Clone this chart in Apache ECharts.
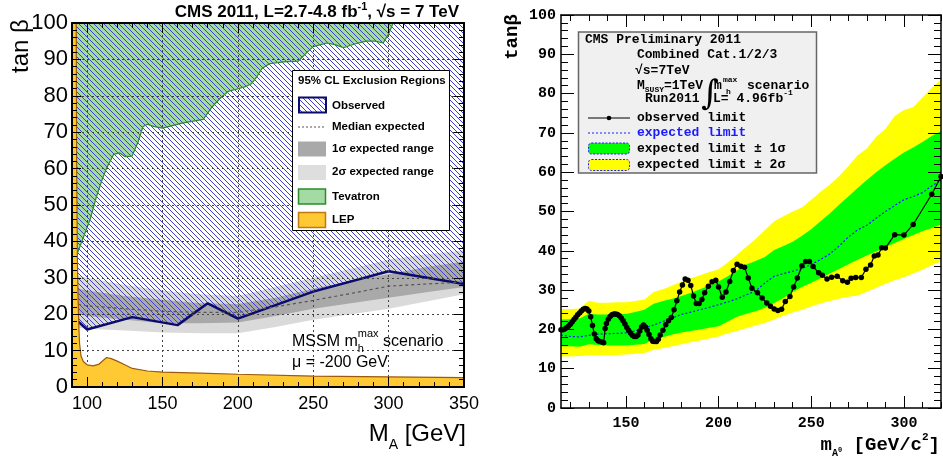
<!DOCTYPE html>
<html>
<head>
<meta charset="utf-8">
<script src="https://cdn.jsdelivr.net/npm/echarts@6/dist/echarts.min.js"></script>
<style>
html,body{margin:0;padding:0;background:#fff}
#chart{width:943px;height:463px}
</style>
</head>
<body>
<div id="chart"></div>
<script>
// ---------- left panel: MSSM exclusion regions (M_A, tan beta) ----------
const lepEdge = [[90,100],[92.8,100],[93.1,60],[93.6,35],[94,25],[94.5,17],[95,12],[96,8.5],[97.5,7],[100,6.1],[104,5.8],[108,6.3],[111,7.4],[113,8.1],[116,7.8],[120,7.1],[125,6.1],[130,5.1],[140,4.4],[150,4.1],[175,3.8],[200,3.5],[250,3.0],[300,2.8],[350,2.6]];
const tevatronEdge = [[90,31],[92,35],[97,40.5],[102,46],[106,52],[110,57],[113,60.2],[117.6,63.9],[121.6,64.3],[125,63.3],[129.8,63.4],[134,67.5],[137,71.5],[140,72.2],[144,71.6],[150,71.1],[163,72.5],[177,73.5],[183,77],[189,79.6],[194,81.3],[199,81.8],[205,82.5],[209,83.3],[213,85.5],[216,87.5],[221,88.8],[230,89.3],[240,89.5],[246,92],[250,93.5],[259,94.5],[265,94],[270,93.2],[278,94.3],[285,95],[291,95],[296.4,94.5],[300,97],[303,100]];
const obsMassL = [90,100,130,160,180,200,250,300,350];
const obsTanbL = [19.5,15.8,19.2,17,23,18.8,26.2,31.8,28.3];
const bandMassL = [90,100,125,150,175,200,225,250,275,300,325,350];
const twoSigLoL = [16.5,16,15.5,15,14.8,14.8,16.5,18.5,20,21.5,23.5,25.5];
const oneSigLoL = [20.5,19.5,18.5,17.5,17.5,17.7,19.5,21.5,23,24.5,26,27.5];
const medianL   = [23,22.3,21.5,20.8,20.5,20.5,22,23.8,25.7,27.7,28.3,28.8];
const oneSigHiL = [27.5,26.5,25,24,23,22.8,24.5,27,29.2,31,33,34.5];
const twoSigHiL = [31,30,28,26.5,25.5,25,27.5,30,32.5,35,36.5,37.5];
const xMajorL = [100,150,200,250,300,350];
const yGridL = [10,20,30,40,50,60,70,80,90];

// ---------- right panel: tan beta limit vs m_A ----------
const bandMassR = [115,120,125,130,135,140,145,150,155,160,165,170,175,180,185,190,195,200,205,210,215,220,225,230,235,240,245,250,255,260,265,270,275,280,285,290,295,300,305,310,315,320];
const yelLoR = [13.1,13.1,13.2,13.4,13.4,13.5,13.5,13.6,13.8,14,14.8,15.2,15.7,16.2,16.7,17.2,17.7,18.2,19,19.6,20.3,21,21.6,22.5,23.5,24.3,25,25.8,26.6,27.2,27.8,28.3,28.6,29.6,30.6,31.6,32.5,33.3,34.2,35.2,36.3,37.3];
const grnLoR = [15.7,15.7,15.6,16.2,16,15.9,15.9,15.9,16.1,16.3,17.5,18,18.7,19.2,19.6,20,20.4,20.8,22,23.2,24,24.6,25.5,26.7,28,29.5,30.8,31.9,33,34.2,35.4,36.6,37.7,38.8,39.8,40.9,42,43,44,45,45.8,46.7];
const expR   = [18.6,18.2,18.1,18.5,18.8,18.9,19,19.1,19.6,20.3,21.1,22,22.9,23.8,24.4,25,25.6,26.3,27,27.8,28.8,29.8,31.8,33.5,34.2,34.8,35.5,36.5,37.8,39.2,41.2,43.5,45.3,46.5,48.3,50,51.5,53,53.8,54.8,56.5,58];
const grnHiR = [22.5,22.6,22.8,24,23.8,23.8,23.9,23.9,24.4,25,26.5,27.2,27.8,28.5,29.3,30.2,31.2,32.2,33.5,35,36.5,37.4,38.4,40.2,41.2,42.3,43.8,45.5,47.5,49.5,51.7,53.8,56,58,60,61.8,63.4,65,66.3,67.7,69.2,70.4];
const yelHiR = [25.2,25.2,25.3,27.3,26.8,26.8,26.9,26.9,27.2,27.6,29.5,30.2,31.2,32.2,33,33.8,34.6,35.3,37,39,41,43,45.3,47.5,48.8,50,51,53,55,56.8,59,61.5,64.3,66,69,71,74.3,75.8,76.5,79,81.5,83.5];
const obsMassR = [115,116,117,118,119,120,121,122,123,124,125,126,127,128,129,130,131,132,133,134,135,136,137,138,138.8,139.5,140.5,141.5,142.5,143.5,144.5,145.5,146.5,147.5,148.5,149.5,150.5,151.5,152.5,153.5,154.5,155.5,156.5,157.5,158.5,159.5,160.5,161.5,162.5,163.5,164.5,165.5,166.5,167.5,168.5,170,171.5,173,174.5,176,177.5,179,180.5,182,183.5,185,186.5,188,189.5,191,192.5,194.5,196.5,198.5,200,202,204,206,208,210,212,214,216,218,221,223.5,226,228,230,232,234,236,238.5,240.5,242.5,245,247,249,251,254,256,258.5,261,264,267,269.5,271.5,274,277,279.5,282,284,286,288,290,295,300,305,315,320];
const obsTanbR = [19.9,19.9,20.1,20.4,20.8,21.3,21.9,22.5,23.1,23.7,24.2,24.7,25.1,25.3,25.2,24.7,23.2,21,18.8,17.6,17.1,16.9,16.8,16.6,20.2,21.5,22.6,23.3,23.7,23.9,23.9,23.8,23.5,22.9,22.2,21.4,20.5,19.7,19.1,18.5,18.2,18.2,18.6,19.6,20.6,21.1,20.6,19.8,18.7,17.6,17,16.9,16.9,17.5,18.6,19.8,21.2,22.2,23,25,27.3,29.5,31.3,32.8,32.5,31.2,28.5,26.6,26.6,27.6,29.3,31,32.1,32.5,30.8,28.2,29.5,32.2,35,36.6,36.1,35.8,33.1,30.5,29.3,28,26.7,25.9,25.2,24.8,25.1,27.1,28.4,30.8,33.1,36.2,37.3,37.3,36,34.4,33.8,32.8,33.3,33.5,32.4,32,33,33.2,33.2,35.3,36.4,38.7,38.9,40.8,40.7,44.1,44,46.7,54.4,58.9];
const xMajorR = [150,200,250,300];
const xMinorR = [120,130,140,150,160,170,180,190,200,210,220,230,240,250,260,270,280,290,300,310,320];

// ---------- styling helpers ----------
const SANS = "'Liberation Sans',Arial,sans-serif";
const MONO = "'Liberation Mono','DejaVu Sans Mono',monospace";
const zip = (xs, ys) => xs.map((x, i) => [x, ys[i]]);

const mctx = document.createElement('canvas').getContext('2d');
function textWidth(str, font) { mctx.font = font; return mctx.measureText(str).width; }

// diagonal "\" hatch used for the observed exclusion region
function makeHatch(step, color, width) {
  const c = document.createElement('canvas');
  c.width = step; c.height = step;
  const g = c.getContext('2d');
  g.strokeStyle = color; g.lineWidth = width;
  g.beginPath();
  for (let k = -1; k <= 1; k++) {
    g.moveTo(k * step - 1, -1);
    g.lineTo(k * step + step + 1, step + 1);
  }
  g.stroke();
  return c;
}
const hatch = makeHatch(5, '#4040d0', 1);
const hatchFill = { image: hatch, repeat: 'repeat' };

// band edges painted from the top edge down: each edge fills to the axis floor,
// the next (lower) edge repaints below it
function edgeFills(xs, edges, fills, xi, yi) {
  return edges.map((ys, k) => ({
    type: 'line', xAxisIndex: xi, yAxisIndex: yi, silent: true,
    symbol: 'none', lineStyle: { width: 0, opacity: 0 },
    areaStyle: { origin: 'start', color: fills[k], opacity: 1 },
    data: zip(xs, ys)
  }));
}

// ---------- axes ----------
const black = { color: '#000' };
function xAx(grid, min, max, pos, o) {
  return Object.assign({
    type: 'value', gridIndex: grid, min: min, max: max, position: pos, z: 10,
    axisLine: { show: false, onZero: false, lineStyle: { color: '#000', width: 2 } },
    axisTick: { show: true, inside: true, length: 5, lineStyle: black },
    axisLabel: { show: false },
    splitLine: { show: false }
  }, o);
}
function yAx(grid, pos, major, minor, o) {
  return Object.assign({
    type: 'value', gridIndex: grid, min: 0, max: 100, interval: 10, position: pos, z: 10,
    axisLine: { show: true, onZero: false, lineStyle: { color: '#000', width: 2 } },
    axisTick: { show: true, inside: true, length: major, lineStyle: black },
    minorTick: { show: true, splitNumber: 5, length: minor, lineStyle: black },
    axisLabel: { show: false },
    splitLine: { show: false }
  }, o);
}

const xAxis = [
  // left panel
  xAx(0, 90, 350, 'bottom', { interval: 10, axisLine: { show: true, onZero: false, lineStyle: { color: '#000', width: 2 } } }),
  xAx(0, 90, 350, 'bottom', {
    axisTick: { show: true, inside: true, length: 10, customValues: xMajorL, lineStyle: black },
    axisLabel: { show: true, customValues: xMajorL, fontSize: 18, fontFamily: SANS, color: '#000', margin: 8 }
  }),
  xAx(0, 90, 350, 'top', { interval: 10, axisLine: { show: true, onZero: false, lineStyle: { color: '#000', width: 2 } } }),
  xAx(0, 90, 350, 'top', { axisTick: { show: true, inside: true, length: 10, customValues: xMajorL, lineStyle: black } }),
  // right panel
  xAx(1, 115, 320, 'bottom', {
    axisLine: { show: true, onZero: false, lineStyle: { color: '#000', width: 1.5 } },
    axisTick: { show: true, inside: true, length: 6, customValues: xMinorR, lineStyle: black }
  }),
  xAx(1, 115, 320, 'bottom', {
    axisTick: { show: true, inside: true, length: 12, customValues: xMajorR, lineStyle: black },
    axisLabel: { show: true, customValues: xMajorR, fontSize: 15, fontWeight: 'bold', fontFamily: MONO, color: '#000', margin: 8 }
  }),
  xAx(1, 115, 320, 'top', {
    axisLine: { show: true, onZero: false, lineStyle: { color: '#000', width: 1.5 } },
    axisTick: { show: true, inside: true, length: 6, customValues: xMinorR, lineStyle: black }
  }),
  xAx(1, 115, 320, 'top', { axisTick: { show: true, inside: true, length: 12, customValues: xMajorR, lineStyle: black } })
];

const yAxis = [
  yAx(0, 'left', 9, 5, { axisLabel: { show: true, fontSize: 22, fontFamily: SANS, color: '#000', margin: 4 } }),
  yAx(0, 'right', 10, 5, {}),
  yAx(1, 'left', 13, 7, {
    axisLine: { show: true, onZero: false, lineStyle: { color: '#000', width: 1.5 } },
    axisLabel: { show: true, fontSize: 15, fontWeight: 'bold', fontFamily: MONO, color: '#000', margin: 5 }
  }),
  yAx(1, 'right', 13, 7, { axisLine: { show: true, onZero: false, lineStyle: { color: '#000', width: 1.5 } } })
];

// ---------- series ----------
const series = [];
// left: expected 2 sigma / 1 sigma bands
edgeFills(bandMassL, [twoSigHiL, oneSigHiL, oneSigLoL, twoSigLoL],
  ['#dadada', '#a9a9a9', '#dadada', '#ffffff'], 1, 0).forEach(s => series.push(s));
// left: Tevatron region above its boundary
series.push({
  type: 'line', xAxisIndex: 1, yAxisIndex: 0, symbol: 'none', silent: true,
  data: tevatronEdge,
  lineStyle: { color: '#2c8a2c', width: 1.2 },
  areaStyle: { origin: 'end', color: '#a4daa4', opacity: 1 }
});
// left: observed exclusion (hatched) with its boundary
series.push({
  type: 'line', xAxisIndex: 1, yAxisIndex: 0, symbol: 'none', silent: true,
  data: zip(obsMassL, obsTanbL),
  lineStyle: { color: '#0b0b6b', width: 2.5 },
  areaStyle: { origin: 'end', color: hatchFill, opacity: 1 }
});
// left: median expected, carrying the dotted grid lines
series.push({
  type: 'line', xAxisIndex: 1, yAxisIndex: 0, symbol: 'none', silent: true,
  data: zip(bandMassL, medianL),
  lineStyle: { color: '#555', width: 1.2, type: [3, 3] },
  markLine: {
    silent: true, symbol: 'none', animation: false,
    label: { show: false },
    lineStyle: { color: '#444', width: 1, type: [2, 3] },
    data: xMajorL.filter(v => v < 350).map(v => ({ xAxis: v })).concat(yGridL.map(v => ({ yAxis: v })))
  }
});
// left: LEP region
series.push({
  type: 'line', xAxisIndex: 1, yAxisIndex: 0, symbol: 'none', silent: true, z: 6,
  data: lepEdge,
  lineStyle: { color: '#9a5a10', width: 1.2 },
  areaStyle: { origin: 'start', color: '#ffc933', opacity: 1 }
});

// right: +-2 sigma / +-1 sigma bands
edgeFills(bandMassR, [yelHiR, grnHiR, grnLoR, yelLoR],
  ['#ffff00', '#00ff00', '#ffff00', '#ffffff'], 5, 2).forEach(s => series.push(s));
series.push({
  type: 'line', xAxisIndex: 5, yAxisIndex: 2, symbol: 'none', silent: true,
  data: zip(bandMassR, expR),
  lineStyle: { color: '#1a1aff', width: 1.2, type: [2, 2] }
});
series.push({
  type: 'line', xAxisIndex: 5, yAxisIndex: 2, silent: true,
  symbol: 'circle', symbolSize: 5.5, showAllSymbol: true,
  itemStyle: { color: '#000' },
  lineStyle: { color: '#000', width: 1.2 },
  data: zip(obsMassR, obsTanbR)
});

// ---------- text and legend boxes ----------
const G = [];
function txt(x, y, text, o) {
  G.push({ type: 'text', x: x, y: y, z: 100, silent: true, rotation: (o && o.rot) || 0,
    style: Object.assign({ text: text, fill: '#000', align: 'left', verticalAlign: 'middle' }, o && o.style) });
}
function rect(x, y, w, h, style, r) {
  G.push({ type: 'rect', z: 100, silent: true, shape: { x: x, y: y, width: w, height: h, r: r || 0 }, style: style });
}
function seg(x1, y1, x2, y2, style) {
  G.push({ type: 'line', z: 100, silent: true, shape: { x1: x1, y1: y1, x2: x2, y2: y2 }, style: style });
}

// left: title, axis names
txt(459, 11, '{b|CMS 2011, L=2.7-4.8 fb}{s|-1}{b|, \u221As = 7 TeV}', { style: {
  align: 'right',
  rich: {
    b: { fontSize: 17, fontWeight: 'bold', fontFamily: SANS, lineHeight: 19, verticalAlign: 'bottom' },
    s: { fontSize: 11, fontWeight: 'bold', fontFamily: SANS, lineHeight: 10, verticalAlign: 'top' }
  } } });
txt(21, 46, 'tan \u03B2', { rot: Math.PI / 2, style: { align: 'center', fontSize: 24, fontFamily: SANS } });
txt(466, 437, '{m|M}{s|A}{m| [GeV]}', { style: {
  align: 'right',
  rich: {
    m: { fontSize: 24, fontFamily: SANS, lineHeight: 30, verticalAlign: 'top' },
    s: { fontSize: 14, fontFamily: SANS, lineHeight: 30, verticalAlign: 'bottom' }
  } } });

// left: scenario note
(function () {
  const f = '16px ' + SANS, fs = '11px ' + SANS;
  const x0 = 292, y0 = 342;
  txt(x0, y0, 'MSSM m', { style: { fontSize: 16, fontFamily: SANS } });
  const w1 = textWidth('MSSM m', f);
  txt(x0 + w1, y0 - 8, 'max', { style: { fontSize: 11, fontFamily: SANS } });
  txt(x0 + w1, y0 + 7, 'h', { style: { fontSize: 11, fontFamily: SANS } });
  txt(x0 + w1 + textWidth('max', fs), y0, ' scenario', { style: { fontSize: 16, fontFamily: SANS } });
  txt(x0, 363, '\u03BC = -200 GeV', { style: { fontSize: 16, fontFamily: SANS } });
})();

// left: legend
const legFont = { fontSize: 11.5, fontWeight: 'bold', fontFamily: SANS };
rect(292.5, 70.5, 157, 160, { fill: '#fff', stroke: '#000', lineWidth: 1 });
txt(298, 81, '95% CL Exclusion Regions', { style: legFont });
rect(299, 97.5, 27, 15, { fill: '#fff', stroke: 'none' });
rect(299, 97.5, 27, 15, { fill: hatchFill, stroke: '#0b0b6b', lineWidth: 2 });
seg(298, 127, 326, 127, { stroke: '#555', lineWidth: 1, lineDash: [2, 2] });
rect(298, 141.5, 28, 15, { fill: '#a9a9a9' });
rect(298, 165, 28, 15, { fill: '#dedede' });
rect(298.5, 189, 27, 15, { fill: '#a4daa4', stroke: '#2c8a2c', lineWidth: 1.5 });
rect(298.5, 212.5, 27, 15, { fill: '#ffc933', stroke: '#c07a10', lineWidth: 1.5 });
[['Observed', 106], ['Median expected', 127], ['1\u03C3 expected range', 149],
 ['2\u03C3 expected range', 172], ['Tevatron', 197], ['LEP', 220]].forEach(function (e) {
  txt(332, e[1], e[0], { style: legFont });
});

// right: axis names
txt(512, 37, 'tan\u03B2', { rot: Math.PI / 2, style: { align: 'center', fontSize: 19, fontWeight: 'bold', fontFamily: MONO } });
txt(940, 445, '{b|m}{s|A}{o|0}{b| [GeV/c}{p|2}{b|]}', { style: {
  align: 'right',
  rich: {
    b: { fontSize: 19, fontWeight: 'bold', fontFamily: MONO, lineHeight: 26, verticalAlign: 'middle' },
    s: { fontSize: 10, fontWeight: 'bold', fontFamily: MONO, lineHeight: 26, verticalAlign: 'bottom' },
    o: { fontSize: 7, fontWeight: 'bold', fontFamily: MONO, lineHeight: 26, verticalAlign: 'bottom', padding: [0, 0, 4, 0] },
    p: { fontSize: 11, fontWeight: 'bold', fontFamily: MONO, lineHeight: 26, verticalAlign: 'top' }
  } } });

// right: legend
(function () {
  const big = { fontSize: 13, fontWeight: 'bold', fontFamily: MONO };
  const small = { fontSize: 8, fontWeight: 'bold', fontFamily: MONO };
  rect(578.5, 32, 238, 141, { fill: '#f0f0f0', stroke: '#666', lineWidth: 1.5 });
  txt(585, 40, 'CMS Preliminary 2011', { style: big });
  txt(637, 55, 'Combined Cat.1/2/3', { style: big });
  txt(635, 71, '\u221As=7TeV', { style: big });
  const fb = 'bold 13px ' + MONO, fsm = 'bold 8px ' + MONO;
  txt(637, 86, 'M', { style: big });
  const xs = 637 + textWidth('M', fb);
  txt(xs, 90, 'SUSY', { style: small });
  txt(xs + textWidth('SUSY', fsm), 86, '=1TeV', { style: big });
  txt(710, 95, '\u222B', { style: { fontSize: 34, fontFamily: "'DejaVu Serif',serif", align: 'center' } });
  txt(714, 86, 'm', { style: big });
  txt(723, 80, 'max', { style: small });
  txt(726, 92, 'h', { style: small });
  txt(747, 86, 'scenario', { style: big });
  txt(645, 99, 'Run2011', { style: big });
  txt(713, 99, 'L= 4.96fb', { style: big });
  txt(713 + textWidth('L= 4.96fb', fb), 93, '-1', { style: small });

  seg(588, 118, 630, 118, { stroke: '#000', lineWidth: 1.2 });
  G.push({ type: 'circle', z: 100, silent: true, shape: { cx: 609, cy: 118, r: 2.3 }, style: { fill: '#000' } });
  txt(637, 118, 'observed limit', { style: big });
  seg(588, 133, 630, 133, { stroke: '#1a1aff', lineWidth: 1.2, lineDash: [2, 2] });
  txt(637, 133, 'expected limit', { style: Object.assign({}, big, { fill: '#1a1aff' }) });
  rect(588.5, 143, 41, 11, { fill: '#00ff00', stroke: '#1a1aff', lineWidth: 1, lineDash: [2, 1.5] }, 3);
  txt(637, 148.5, 'expected limit \u00B1 1\u03C3', { style: big });
  rect(588.5, 159.5, 41, 11, { fill: '#ffff00', stroke: '#1a1aff', lineWidth: 1, lineDash: [2, 1.5] }, 3);
  txt(637, 165, 'expected limit \u00B1 2\u03C3', { style: big });
})();

const chart = echarts.init(document.getElementById('chart'), null, { renderer: 'canvas' });
chart.setOption({
  animation: false,
  backgroundColor: '#fff',
  grid: [
    { left: 72, top: 23, width: 392, height: 364, show: false },
    { left: 561, top: 15, width: 380, height: 393, show: false }
  ],
  xAxis: xAxis,
  yAxis: yAxis,
  series: series,
  graphic: { elements: G }
});
</script>
</body>
</html>
